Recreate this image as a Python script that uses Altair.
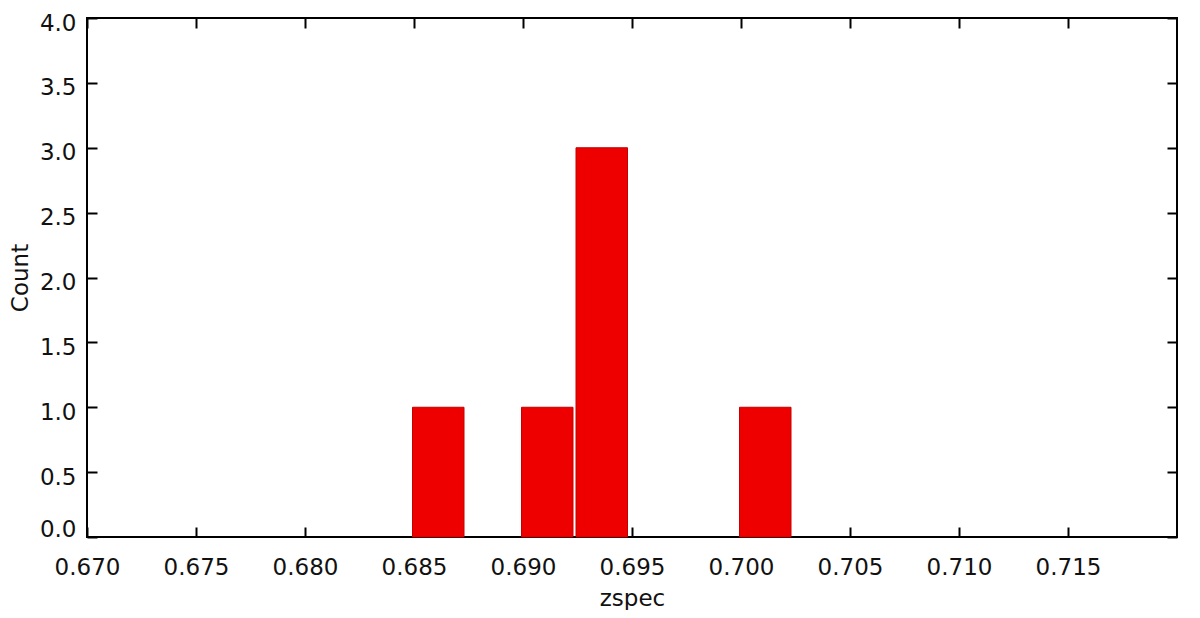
import altair as alt
import pandas as pd

# Histogram data
bin_start = [0.685, 0.690, 0.6925, 0.700]
bin_end = [0.6875, 0.6925, 0.695, 0.7025]
counts = [1, 1, 3, 1]

x_ticks = [0.670, 0.675, 0.680, 0.685, 0.690, 0.695, 0.700, 0.705, 0.710, 0.715]
y_ticks = [0.0, 0.5, 1.0, 1.5, 2.0, 2.5, 3.0, 3.5, 4.0]
x_domain = [0.670, 0.720]
y_domain = [0.0, 4.0]

df = pd.DataFrame({"start": bin_start, "end": bin_end, "count": counts})

FONT = "DejaVu Sans"
INWARD = {"expr": "-10"}

xscale = alt.Scale(domain=x_domain, nice=False, zero=False)
yscale = alt.Scale(domain=y_domain, nice=False)

base = alt.Chart(df)

bars = base.mark_bar(color="#ee0000", stroke="#c40000", strokeWidth=1,
                     xOffset=-5, x2Offset=-2).encode(
    x=alt.X(
        "start:Q", bin="binned", scale=xscale,
        axis=alt.Axis(orient="bottom", values=x_ticks, format=".3f", title="zspec",
                      tickSize=INWARD, labelPadding=29, titlePadding=8,
                      labelFlush=False, domain=False),
    ),
    x2="end:Q",
    y=alt.Y(
        "count:Q", scale=yscale,
        axis=alt.Axis(orient="left", values=y_ticks, format=".1f", title="Count",
                      tickSize=INWARD, labelPadding=21, titlePadding=7,
                      labelOffset={"condition": {"test": "datum.value == 0", "value": -8}, "value": 5},
                      domain=False),
    ),
)

mirror = base.mark_bar(opacity=0).encode(
    x=alt.X(
        "start:Q", bin="binned", scale=xscale,
        axis=alt.Axis(orient="top", values=x_ticks, labels=False, title=None,
                      tickSize=INWARD, domain=False),
    ),
    x2="end:Q",
    y=alt.Y(
        "count:Q", scale=yscale,
        axis=alt.Axis(orient="right", values=y_ticks, labels=False, title=None,
                      tickSize=INWARD, domain=False),
    ),
)

chart = (
    alt.layer(bars, mirror)
    .resolve_axis(x="independent", y="independent")
    .properties(
        width=1090, height=519,
        autosize=alt.AutoSizeParams(type="none"),
        padding={"left": 79, "top": 10, "right": 15, "bottom": 73},
        background="white",
    )
    .configure_view(stroke="black", strokeWidth=2)
    .configure_bar(binSpacing=0)
    .configure_axis(
        grid=False,
        tickColor="black", tickWidth=2,
        labelFont=FONT, labelFontSize=23, labelColor="#111111",
        titleFont=FONT, titleFontSize=23, titleFontWeight="normal", titleColor="#111111",
    )
)

chart.save("out.html", embed_options={"renderer": "svg", "actions": False})
